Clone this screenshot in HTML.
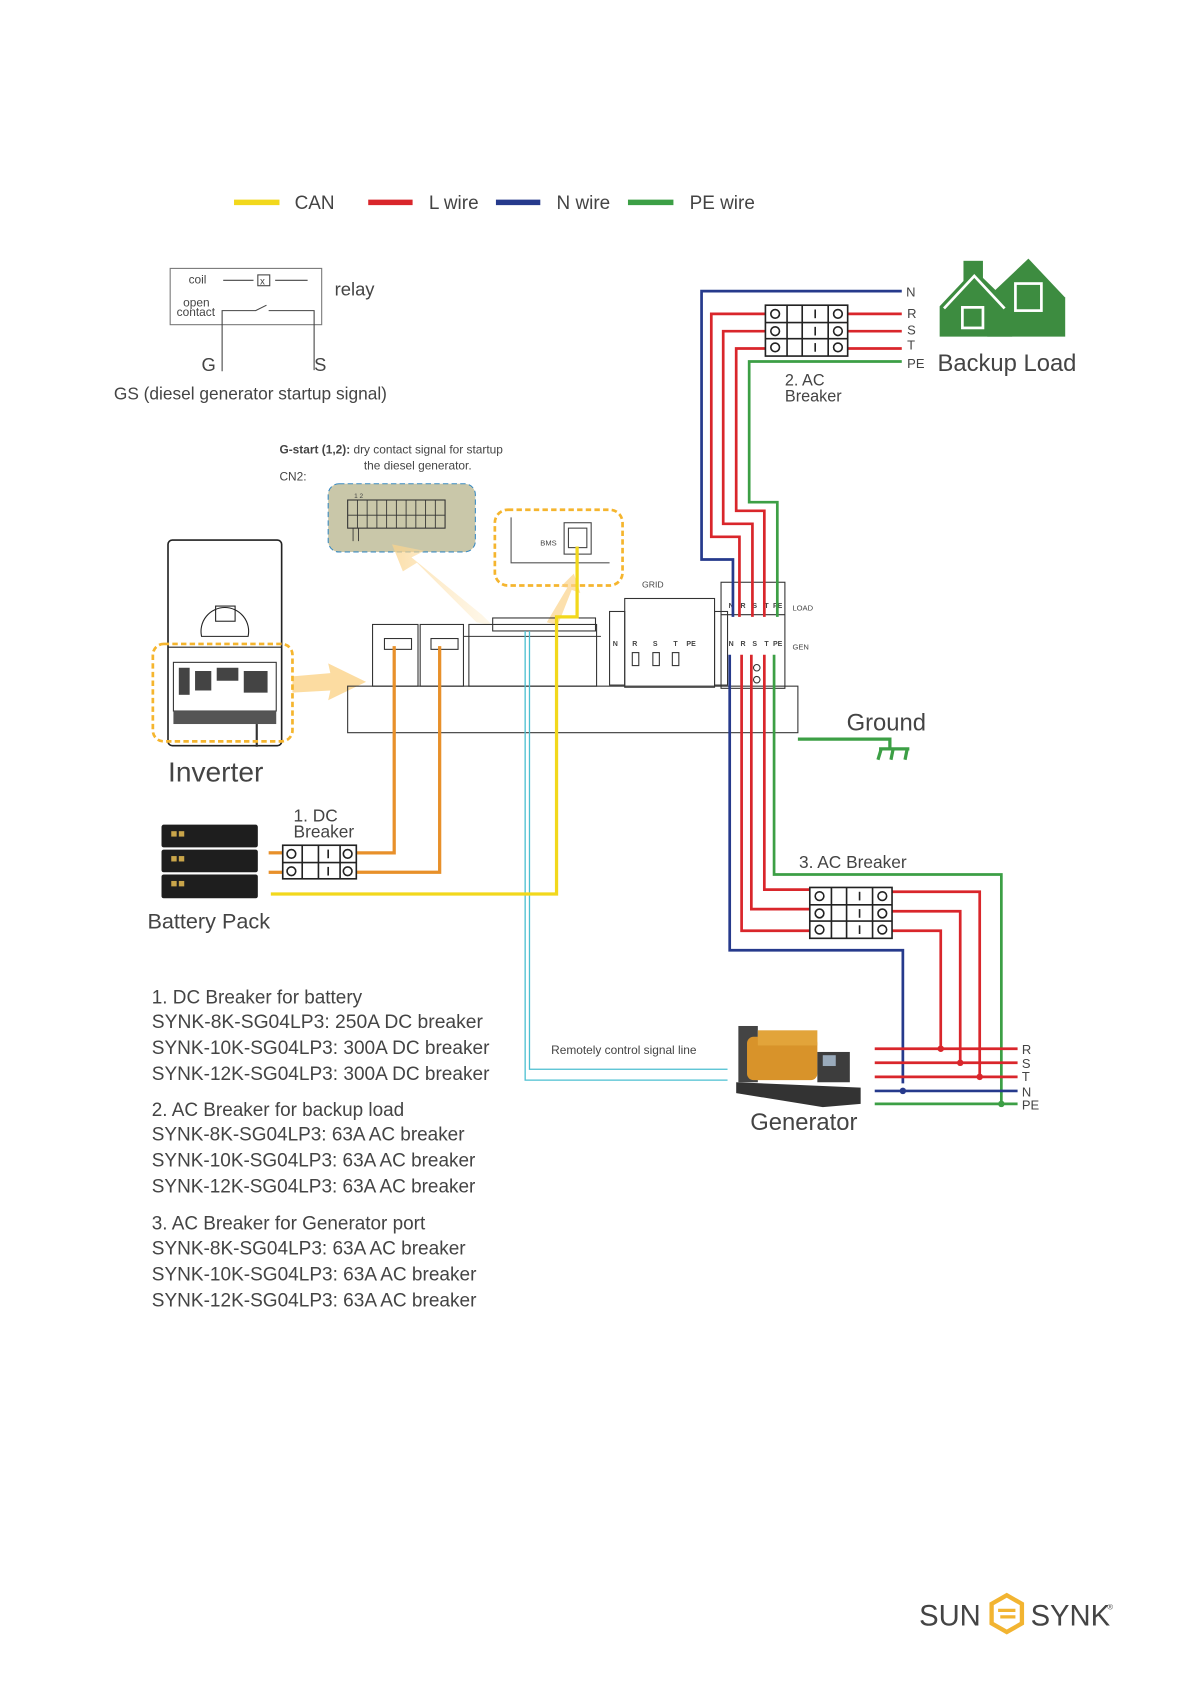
<!DOCTYPE html>
<html><head><meta charset="utf-8"><style>
html,body{margin:0;padding:0;background:#fff;}
svg{display:block;}
text{font-family:"Liberation Sans",sans-serif;fill:#444;}
</style></head><body>
<svg width="1191" height="1684" viewBox="0 0 1100 1556" xmlns="http://www.w3.org/2000/svg">
<defs>
<linearGradient id="ag" x1="0" y1="0" x2="1" y2="0"><stop offset="0" stop-color="#fbd38a" stop-opacity="0.9"/><stop offset="1" stop-color="#fde9c0" stop-opacity="0.4"/></linearGradient>
</defs>
<g stroke-width="5">
<line x1="216" y1="187" x2="258" y2="187" stroke="#f2d81c"/>
<line x1="340" y1="187" x2="381" y2="187" stroke="#d9262b"/>
<line x1="458" y1="187" x2="499" y2="187" stroke="#263a8c"/>
<line x1="580" y1="187" x2="622" y2="187" stroke="#3c9f45"/>
</g>
<g font-size="17.5">
<text x="272" y="193">CAN</text><text x="396" y="193">L wire</text><text x="514" y="193">N wire</text><text x="637" y="193">PE wire</text>
</g>
<rect x="157" y="248" width="140" height="52" fill="none" stroke="#777" stroke-width="1"/>
<text x="174" y="262" font-size="11" fill="#555">coil</text>
<line x1="206" y1="259" x2="234" y2="259" stroke="#444"/><rect x="238" y="254" width="11" height="10" fill="none" stroke="#444"/><text x="240" y="263" font-size="9">x</text>
<line x1="254" y1="259" x2="284" y2="259" stroke="#444"/>
<text x="169" y="283" font-size="11" fill="#555">open</text><text x="163" y="292" font-size="11" fill="#555">contact</text>
<polyline points="205,343 205,287 236,287 246,282" fill="none" stroke="#444"/>
<polyline points="248,287 290,287 290,342" fill="none" stroke="#444"/>
<text x="309" y="273" font-size="17">relay</text>
<text x="186" y="343" font-size="17">G</text><text x="290" y="343" font-size="17">S</text>
<text x="105" y="369" font-size="16" fill="#222">GS (diesel generator startup signal)</text>
<text x="258" y="419" font-size="11"><tspan font-weight="bold">G-start (1,2):</tspan> dry contact signal for startup</text>
<text x="336" y="434" font-size="11">the diesel generator.</text>
<text x="258" y="444" font-size="11" fill="#555">CN2:</text>
<rect x="303" y="447" width="136" height="63" rx="10" fill="#c9c7a9" stroke="#3a8ac0" stroke-dasharray="5,3"/>
<rect x="321" y="462" width="90" height="26" fill="none" stroke="#333"/>
<g stroke="#333" stroke-width="0.8">
<line x1="330" y1="462" x2="330" y2="488"/><line x1="339" y1="462" x2="339" y2="488"/><line x1="348" y1="462" x2="348" y2="488"/><line x1="357" y1="462" x2="357" y2="488"/><line x1="366" y1="462" x2="366" y2="488"/><line x1="375" y1="462" x2="375" y2="488"/><line x1="384" y1="462" x2="384" y2="488"/><line x1="393" y1="462" x2="393" y2="488"/><line x1="402" y1="462" x2="402" y2="488"/>
<line x1="321" y1="476" x2="411" y2="476"/><line x1="326" y1="488" x2="326" y2="500"/><line x1="331" y1="488" x2="331" y2="500"/>
</g>
<text x="327" y="460" font-size="6">1 2</text>
<rect x="457" y="471" width="118" height="70" rx="12" fill="none" stroke="#f5b52e" stroke-width="2.5" stroke-dasharray="5,3"/>
<polyline points="472,478 472,520 563,520" fill="none" stroke="#555"/>
<rect x="521" y="483" width="25" height="29" fill="none" stroke="#444"/><rect x="525" y="488" width="17" height="18" fill="none" stroke="#444"/>
<text x="499" y="504" font-size="7" fill="#777">BMS</text>
<polygon points="455,578 440,575 385,520 372,528 362,503 392,509 380,515 445,568" fill="url(#ag)" opacity="0.8"/>
<polygon points="505,575 515,578 528,545 536,548 530,530 518,542 524,543" fill="#fbd38a" opacity="0.7"/>
<polygon points="270,625 305,622 303,613 338,630 303,647 305,638 270,640" fill="#fbd38a" opacity="0.8"/>
<rect x="155" y="499" width="105" height="190" rx="4" fill="#fff" stroke="#222" stroke-width="1.5"/>
<line x1="155" y1="598" x2="260" y2="598" stroke="#222"/>
<path d="M186,588 A22,22 0 1 1 229,588 Z" fill="none" stroke="#222"/>
<rect x="199" y="560" width="18" height="14" fill="none" stroke="#222"/>
<rect x="160" y="612" width="95" height="45" fill="#fff" stroke="#333"/>
<g fill="#444"><rect x="165" y="617" width="10" height="25"/><rect x="180" y="620" width="15" height="18"/><rect x="200" y="617" width="20" height="12"/><rect x="225" y="620" width="22" height="20"/></g>
<rect x="160" y="657" width="95" height="12" fill="#555"/>
<line x1="237" y1="669" x2="237" y2="690" stroke="#333" stroke-width="2"/>
<rect x="141" y="595" width="129" height="90" rx="10" fill="none" stroke="#f5b52e" stroke-width="2.5" stroke-dasharray="5,3"/>
<text x="155" y="722" font-size="26">Inverter</text>
<g fill="none" stroke="#333" stroke-width="1">
<rect x="321" y="634" width="416" height="43"/>
<rect x="344" y="577" width="42" height="57"/><rect x="388" y="577" width="40" height="57"/>
<rect x="355" y="590" width="25" height="10"/><rect x="398" y="590" width="25" height="10"/>
<rect x="433" y="577" width="118" height="57"/><line x1="428" y1="588" x2="555" y2="588"/>
<rect x="455" y="571" width="95" height="12"/>
<rect x="577" y="553" width="83" height="82"/><rect x="563" y="565" width="14" height="68"/><rect x="660" y="565" width="12" height="68"/>
<rect x="666" y="538" width="59" height="98"/><line x1="666" y1="568" x2="725" y2="568"/>
</g>
<g font-size="6.5" font-weight="bold" fill="#111"><text x="566" y="597">N</text><text x="584" y="597">R</text><text x="603" y="597">S</text><text x="622" y="597">T</text><text x="634" y="597">PE</text></g>
<g fill="none" stroke="#333"><rect x="584" y="603" width="6" height="12"/><rect x="603" y="603" width="6" height="12"/><rect x="621" y="603" width="6" height="12"/></g>
<text x="593" y="543" font-size="8" fill="#666" font-family="Liberation Serif">GRID</text>
<text x="732" y="564" font-size="7" fill="#666" font-family="Liberation Serif">LOAD</text>
<text x="732" y="600" font-size="7" fill="#666" font-family="Liberation Serif">GEN</text>
<g font-size="6.5" font-weight="bold" fill="#111"><text x="673" y="562">N</text><text x="684" y="562">R</text><text x="695" y="562">S</text><text x="706" y="562">T</text><text x="714" y="562">PE</text>
<text x="673" y="597">N</text><text x="684" y="597">R</text><text x="695" y="597">S</text><text x="706" y="597">T</text><text x="714" y="597">PE</text></g>
<circle cx="699" cy="617" r="3" fill="none" stroke="#333"/><circle cx="699" cy="628" r="3" fill="none" stroke="#333"/>
<g fill="none" stroke-width="2.5">
<polyline points="833,269 648,269 648,517 677,517 677,570" stroke="#263a8c"/>
<polyline points="707,290 657,290 657,496 683,496 683,570" stroke="#d9262b"/>
<polyline points="707,306 668,306 668,484 695,484 695,570" stroke="#d9262b"/>
<polyline points="707,322 680,322 680,472 706,472 706,570" stroke="#d9262b"/>
<polyline points="833,334 692,334 692,464 718,464 718,570" stroke="#3c9f45"/>
<line x1="783" y1="290" x2="833" y2="290" stroke="#d9262b"/>
<line x1="783" y1="306" x2="833" y2="306" stroke="#d9262b"/>
<line x1="783" y1="322" x2="833" y2="322" stroke="#d9262b"/>
</g>
<g fill="#fff" stroke="#222" stroke-width="1.5">
<rect x="707" y="282" width="76" height="47"/>
<line x1="707" y1="298" x2="783" y2="298"/><line x1="707" y1="313" x2="783" y2="313"/>
<line x1="727" y1="282" x2="727" y2="329"/><line x1="741" y1="282" x2="741" y2="329"/><line x1="765" y1="282" x2="765" y2="329"/>
<circle cx="716" cy="290" r="4"/><circle cx="716" cy="306" r="4"/><circle cx="716" cy="321" r="4"/>
<circle cx="774" cy="290" r="4"/><circle cx="774" cy="306" r="4"/><circle cx="774" cy="321" r="4"/>
<line x1="753" y1="286" x2="753" y2="294"/><line x1="753" y1="302" x2="753" y2="310"/><line x1="753" y1="317" x2="753" y2="325"/>
</g>
<text x="725" y="356" font-size="15">2. AC</text><text x="725" y="371" font-size="15">Breaker</text>
<g font-size="12" fill="#444"><text x="837" y="274">N</text><text x="838" y="294">R</text><text x="838" y="309">S</text><text x="838" y="323">T</text><text x="838" y="340">PE</text></g>
<g fill="#3d8c40">
<rect x="890" y="241" width="18" height="30"/>
<polygon points="868,283 900,249 935,283 935,311 868,311"/>
<polygon points="912,275 950,239 984,275 984,311 912,311"/>
</g>
<g fill="none" stroke="#fff" stroke-width="2.5"><polyline points="872,285 900,255 928,285"/><rect x="889" y="284" width="19" height="19"/><rect x="938" y="262" width="24" height="25"/></g>
<text x="866" y="343" font-size="22">Backup Load</text>
<polyline points="737,683 822,683 822,692" fill="none" stroke="#3c9f45" stroke-width="3"/>
<g stroke="#3c9f45" stroke-width="3" fill="none"><line x1="812" y1="692" x2="840" y2="692"/><line x1="814" y1="692" x2="811" y2="702"/><line x1="825" y1="692" x2="823" y2="702"/><line x1="838" y1="692" x2="836" y2="702"/></g>
<text x="782" y="675" font-size="22">Ground</text>
<g fill="none" stroke-width="2.5">
<polyline points="674,605 674,878 834,878 834,1001" stroke="#263a8c"/>
<polyline points="685,605 685,860 748,860" stroke="#d9262b"/>
<polyline points="694,605 694,840 748,840" stroke="#d9262b"/>
<polyline points="706,605 706,822 748,822" stroke="#d9262b"/>
<polyline points="715,605 715,808 925,808 925,1020" stroke="#3c9f45"/>
<polyline points="824,824 905,824 905,995" stroke="#d9262b"/>
<polyline points="824,842 887,842 887,982" stroke="#d9262b"/>
<polyline points="824,860 869,860 869,969" stroke="#d9262b"/>
<line x1="808" y1="969" x2="940" y2="969" stroke="#d9262b"/>
<line x1="808" y1="982" x2="940" y2="982" stroke="#d9262b"/>
<line x1="808" y1="995" x2="940" y2="995" stroke="#d9262b"/>
<line x1="808" y1="1008" x2="940" y2="1008" stroke="#263a8c"/>
<line x1="808" y1="1020" x2="940" y2="1020" stroke="#3c9f45"/>
</g>
<g><circle cx="869" cy="969" r="3" fill="#d9262b"/><circle cx="887" cy="982" r="3" fill="#d9262b"/><circle cx="905" cy="995" r="3" fill="#d9262b"/><circle cx="834" cy="1008" r="3" fill="#263a8c"/><circle cx="925" cy="1020" r="3" fill="#3c9f45"/></g>
<g font-size="12" fill="#444"><text x="944" y="974">R</text><text x="944" y="987">S</text><text x="944" y="999">T</text><text x="944" y="1013">N</text><text x="944" y="1025">PE</text></g>
<g fill="#fff" stroke="#222" stroke-width="1.5">
<rect x="748" y="820" width="76" height="47"/>
<line x1="748" y1="836" x2="824" y2="836"/><line x1="748" y1="851" x2="824" y2="851"/>
<line x1="768" y1="820" x2="768" y2="867"/><line x1="782" y1="820" x2="782" y2="867"/><line x1="806" y1="820" x2="806" y2="867"/>
<circle cx="757" cy="828" r="4"/><circle cx="757" cy="844" r="4"/><circle cx="757" cy="859" r="4"/>
<circle cx="815" cy="828" r="4"/><circle cx="815" cy="844" r="4"/><circle cx="815" cy="859" r="4"/>
<line x1="794" y1="824" x2="794" y2="832"/><line x1="794" y1="840" x2="794" y2="848"/><line x1="794" y1="855" x2="794" y2="863"/>
</g>
<text x="738" y="802" font-size="16">3. AC Breaker</text>
<rect x="682" y="948" width="18" height="52" fill="#444"/>
<rect x="690" y="958" width="65" height="40" rx="6" fill="#d8932a"/>
<rect x="700" y="952" width="55" height="14" fill="#e2a43a"/>
<rect x="755" y="972" width="30" height="28" fill="#3d3d3d"/><rect x="760" y="975" width="12" height="10" fill="#9ab"/>
<polygon points="680,1000 795,1005 795,1020 760,1023 680,1010" fill="#333"/>
<text x="693" y="1044" font-size="22">Generator</text>
<g fill="none" stroke="#4bbfd0" stroke-width="1.2">
<polyline points="485,583 485,998 672,998"/><polyline points="489,583 489,988 672,988"/>
</g>
<text x="509" y="974" font-size="11" fill="#555">Remotely control signal line</text>
<g fill="none" stroke-width="3">
<polyline points="364,597 364,788 329,788" stroke="#e8902a"/>
<polyline points="406,597 406,806 329,806" stroke="#e8902a"/>
<line x1="248" y1="788" x2="261" y2="788" stroke="#e8902a"/>
<line x1="248" y1="806" x2="261" y2="806" stroke="#e8902a"/>
<polyline points="250,826 514,826 514,570 533,570 533,505" stroke="#f2d81c"/>
</g>
<g fill="#fff" stroke="#222" stroke-width="1.5">
<rect x="261" y="781" width="68" height="31"/><line x1="261" y1="797" x2="329" y2="797"/>
<line x1="279" y1="781" x2="279" y2="812"/><line x1="294" y1="781" x2="294" y2="812"/><line x1="314" y1="781" x2="314" y2="812"/>
<circle cx="269" cy="789" r="4"/><circle cx="269" cy="805" r="4"/><circle cx="321" cy="789" r="4"/><circle cx="321" cy="805" r="4"/>
<line x1="303" y1="785" x2="303" y2="793"/><line x1="303" y1="801" x2="303" y2="809"/>
</g>
<text x="271" y="759" font-size="16">1. DC</text><text x="271" y="774" font-size="16">Breaker</text>
<g fill="#1e1e1e"><rect x="149" y="762" width="89" height="21" rx="2"/><rect x="149" y="785" width="89" height="21" rx="2"/><rect x="149" y="808" width="89" height="22" rx="2"/></g>
<g fill="#c9a54a"><rect x="158" y="768" width="5" height="5"/><rect x="165" y="768" width="5" height="5"/><rect x="158" y="791" width="5" height="5"/><rect x="165" y="791" width="5" height="5"/><rect x="158" y="814" width="5" height="5"/><rect x="165" y="814" width="5" height="5"/></g>
<text x="136" y="858" font-size="20">Battery Pack</text>
<g font-size="17.5" fill="#333">
<text x="140" y="927">1. DC Breaker for battery</text>
<text x="140" y="950" textLength="306" lengthAdjust="spacingAndGlyphs">SYNK-8K-SG04LP3:  250A DC breaker</text>
<text x="140" y="974" textLength="312" lengthAdjust="spacingAndGlyphs">SYNK-10K-SG04LP3: 300A DC breaker</text>
<text x="140" y="998" textLength="312" lengthAdjust="spacingAndGlyphs">SYNK-12K-SG04LP3: 300A DC breaker</text>
<text x="140" y="1031">2. AC Breaker for  backup load</text>
<text x="140" y="1054" textLength="289" lengthAdjust="spacingAndGlyphs">SYNK-8K-SG04LP3: 63A AC breaker</text>
<text x="140" y="1078" textLength="299" lengthAdjust="spacingAndGlyphs">SYNK-10K-SG04LP3: 63A AC breaker</text>
<text x="140" y="1102" textLength="299" lengthAdjust="spacingAndGlyphs">SYNK-12K-SG04LP3: 63A AC breaker</text>
<text x="140" y="1136">3. AC Breaker for Generator port</text>
<text x="140" y="1159" textLength="290" lengthAdjust="spacingAndGlyphs">SYNK-8K-SG04LP3: 63A AC breaker</text>
<text x="140" y="1183" textLength="300" lengthAdjust="spacingAndGlyphs">SYNK-10K-SG04LP3: 63A AC breaker</text>
<text x="140" y="1207" textLength="300" lengthAdjust="spacingAndGlyphs">SYNK-12K-SG04LP3: 63A AC breaker</text>
</g>
<text x="849" y="1502" font-size="27" fill="#222">SUN</text>
<polygon points="930,1474 944,1482 944,1500 930,1508 916,1500 916,1482" fill="none" stroke="#f2b431" stroke-width="4"/>
<path d="M922,1488 L938,1488 M924,1494 L938,1494" stroke="#f2b431" stroke-width="3"/>
<text x="952" y="1502" font-size="27" fill="#222">SYNK</text>
<text x="1023" y="1487" font-size="7" fill="#222">®</text>
</svg>
</body></html>
